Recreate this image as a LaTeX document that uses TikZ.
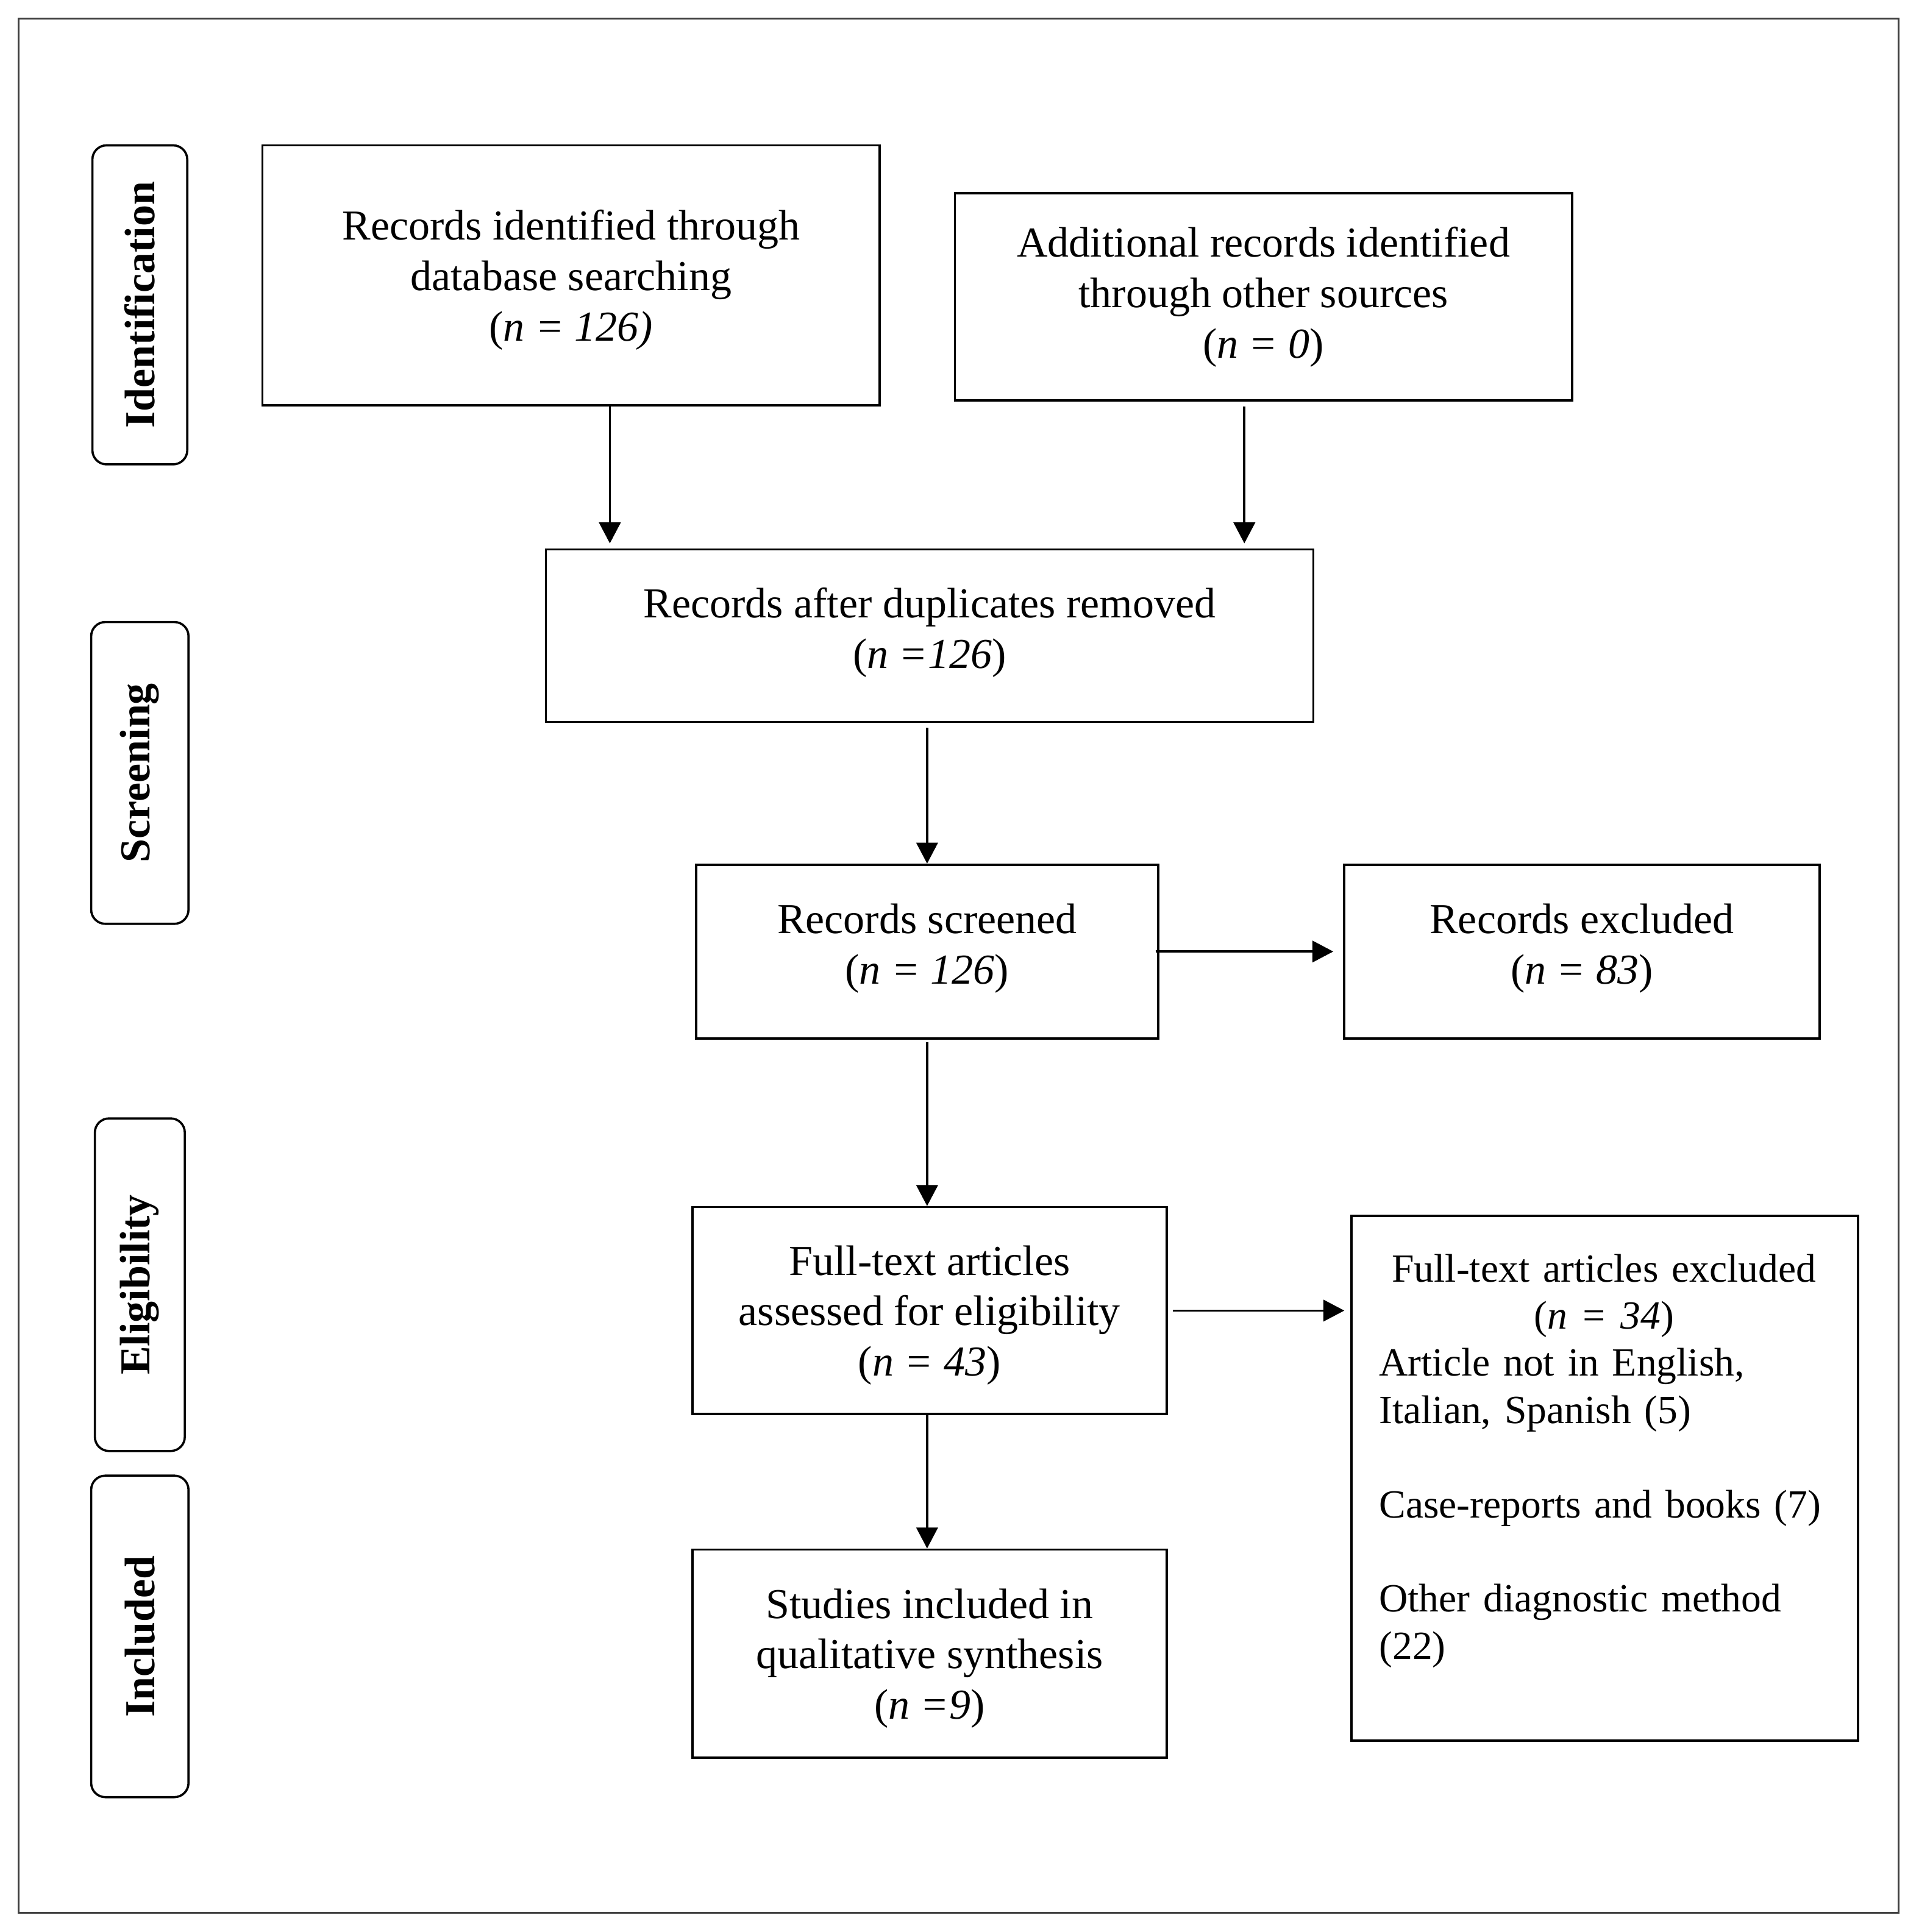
\documentclass[tikz,border=0pt]{standalone}
\usepackage{fontspec}
\setmainfont{Liberation Serif}
\usetikzlibrary{arrows.meta}
\newlength\pxu
\setlength\pxu{0.5053pt}
\newcommand\topstrut{\rule{0pt}{16pt}}
\newcommand\botstrut{\rule[-6.2pt]{0pt}{0pt}}
\begin{document}
\begin{tikzpicture}[x=0.5053pt,y=-0.5053pt,
  flowbox/.style={draw,line width=0.9pt,rectangle,inner sep=0pt,align=center,
    font=\fontsize{17.5pt}{20.7pt}\selectfont},
  stagebox/.style={draw,line width=0.9pt,rectangle,rounded corners=5.8pt,inner sep=0pt,
    rotate=90,font=\fontsize{17.5pt}{20.7pt}\selectfont\bfseries},
  arr/.style={line width=0.9pt,-{Triangle[length=8.6pt,width=8.8pt]}}]
\useasboundingbox (0,0) rectangle (1557.15,1568.5);
\draw[line width=0.75pt,black!75] (15,15) rectangle (1541,1553);

% stage labels
\node[stagebox,minimum width=259\pxu,minimum height=77\pxu] (l1) at (113.5,247.5) {Identification};
\node[stagebox,minimum width=245\pxu,minimum height=79\pxu] (l2) at (113.5,627.5) {Screening};
\node[stagebox,minimum width=270\pxu,minimum height=73\pxu] (l3) at (113.5,1043) {Eligibility};
\node[stagebox,minimum width=261\pxu,minimum height=79\pxu] (l4) at (113.5,1328.5) {Included};

% boxes
\node[flowbox,minimum width=501\pxu,minimum height=211\pxu] (b1) at (463.5,223.5)
  {\topstrut Records identified through\\database searching\\(\textit{n = 126)}};
\node[flowbox,minimum width=501\pxu,minimum height=168\pxu] (b2) at (1025.5,241)
  {Additional records identified\\through other sources\\(\textit{n = 0})};
\node[flowbox,minimum width=623\pxu,minimum height=140\pxu] (b3) at (754.5,516)
  {Records after duplicates removed\\(\textit{n =126})\botstrut};
\node[flowbox,minimum width=375\pxu,minimum height=141\pxu] (b4) at (752.5,772.5)
  {Records screened\\(\textit{n = 126})\botstrut};
\node[flowbox,minimum width=386\pxu,minimum height=141\pxu] (b5) at (1284,772.5)
  {Records excluded\\(\textit{n = 83})\botstrut};
\node[flowbox,minimum width=385\pxu,minimum height=168\pxu] (b6) at (754.5,1064)
  {\topstrut Full-text articles\\assessed for eligibility\\(\textit{n = 43})};
\node[flowbox,minimum width=411\pxu,minimum height=426\pxu] (b7) at (1302.5,1200) {};
\node[anchor=base west,inner sep=0pt,text width=420\pxu,align=left,
  font=\fontsize{16.4pt}{19.35pt}\selectfont] (b7t) at (1119,1040.6)
  {\makebox[365\pxu][c]{Full-text articles excluded}\\
   \makebox[365\pxu][c]{(\textit{n = 34})}\\
   Article not in English,\\
   Italian, Spanish (5)\\[19.35pt]
   \mbox{Case-reports and books (7)}\\[19.35pt]
   Other diagnostic method\\
   (22)};
\node[flowbox,minimum width=385\pxu,minimum height=169\pxu] (b8) at (754.5,1342.5)
  {\topstrut Studies included in\\qualitative synthesis\\(\textit{n =9})};

% connectors
\coordinate (c1) at (495,0);
\coordinate (c2) at (1010,0);
\draw[arr,shorten >=2pt] (c1 |- b1.south) -- (c1 |- b3.north);
\draw[arr,shorten <=2pt,shorten >=2pt] (c2 |- b2.south) -- (c2 |- b3.north);
\draw[arr,shorten <=2pt] (b4.north |- b3.south) -- (b4.north);
\draw[arr,shorten <=-1.5pt,shorten >=4pt] (b4.east) -- (b5.west);
\draw[arr,shorten <=1pt] (b4.south) -- (b4.south |- b6.north);
\draw[arr,shorten <=2pt,shorten >=2.5pt] (b6.east) -- (b6.east -| b7.west);
\draw[arr] (b4.south |- b6.south) -- (b4.south |- b8.north);
\end{tikzpicture}
\end{document}
